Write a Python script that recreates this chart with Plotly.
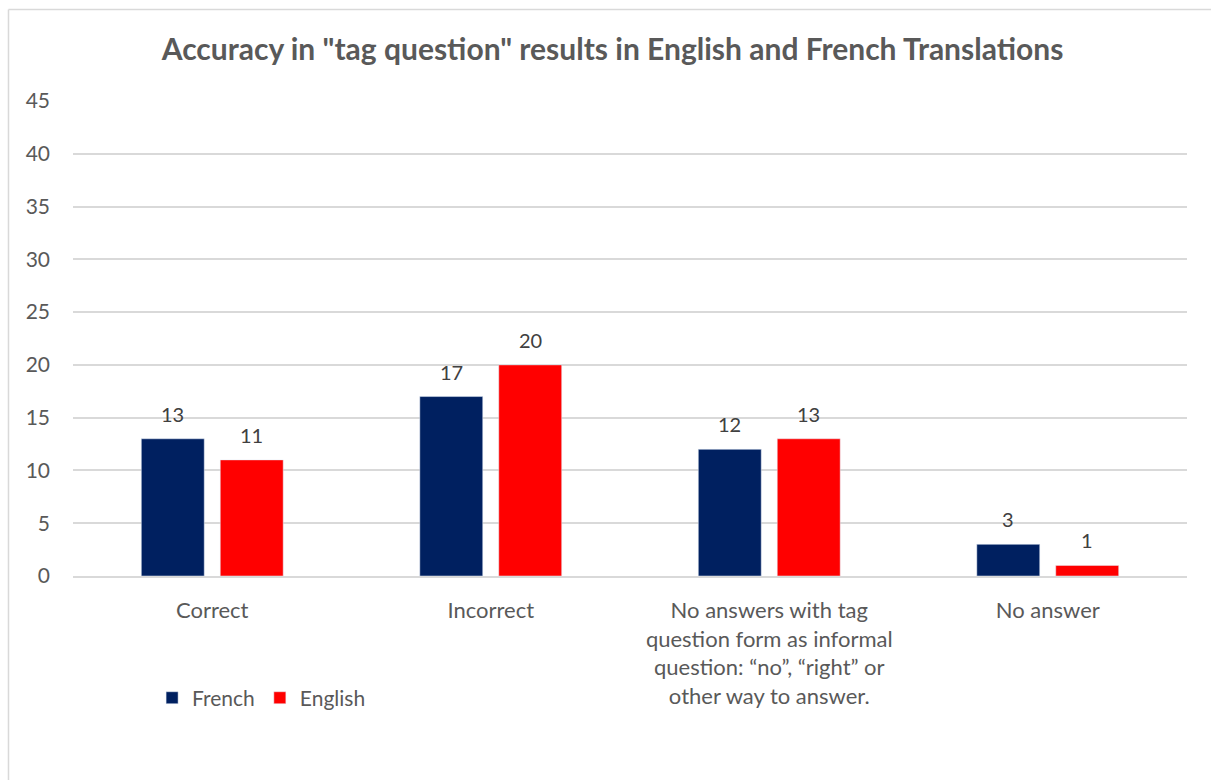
import plotly.graph_objects as go

categories = [
    "Correct",
    "Incorrect",
    "No answers with tag<br>question form as informal<br>question: \u201cno\u201d, \u201cright\u201d or<br>other way to answer.",
    "No answer",
]
french = [13, 17, 12, 3]
english = [11, 20, 13, 1]
y_ticks = [0, 5, 10, 15, 20, 25, 30, 35, 40, 45]

FONT = "Lato"
TEXT = "#595959"
GRID = "#d9d9d9"

fig = go.Figure()
fig.add_trace(go.Bar(name="French", x=categories, y=french, marker_color="#002060"))
fig.add_trace(go.Bar(name="English", x=categories, y=english, marker_color="#ff0000"))

# value labels above each bar
for vals, shift in ((french, -39.5), (english, 39.5)):
    for cat, v in zip(categories, vals):
        fig.add_annotation(
            x=cat, y=v, xshift=shift, yshift=25, text=str(v), showarrow=False,
            font=dict(family=FONT, size=20, color="#404040"), yanchor="middle",
        )

# chart frame: left and top edges, stopping at the page edges
fig.add_shape(
    type="line", xref="paper", yref="paper",
    x0=-0.0579, x1=-0.0579, y0=-0.4295, y1=1.1926,
    line=dict(color=GRID, width=1.5), layer="below",
)
fig.add_shape(
    type="line", xref="paper", yref="paper",
    x0=-0.0579, x1=1.0215, y0=1.1926, y1=1.1926,
    line=dict(color=GRID, width=1.5), layer="below",
)

fig.update_layout(
    width=1211, height=780,
    margin=dict(l=73, r=24, t=101, b=204),
    paper_bgcolor="white", plot_bgcolor="white",
    barmode="group", bargap=0.433, bargroupgap=0.203,
    font=dict(family=FONT, color=TEXT, size=20),
    title=dict(
        text="<b>Accuracy in \"tag question\" results in English and French Translations</b>",
        x=0.5058, xref="container", xanchor="center",
        y=0.936, yref="container", yanchor="middle",
        font=dict(family=FONT, size=30, color=TEXT),
    ),
    legend=dict(
        orientation="h", x=0.071, xanchor="left", y=-0.257, yanchor="middle",
        font=dict(family=FONT, size=21, color=TEXT),
        itemwidth=30, tracegroupgap=0,
    ),
    showlegend=True,
)
fig.update_xaxes(
    showgrid=False, showline=True, linecolor=GRID, linewidth=1.5,
    ticks="", ticklabelstandoff=14,
    tickfont=dict(family=FONT, size=22, color=TEXT),
)
fig.update_yaxes(
    range=[0, 45], tickvals=y_ticks, showgrid=True, gridcolor=GRID, gridwidth=1.5,
    zeroline=False, showline=False, ticks="", ticklabelstandoff=22,
    tickfont=dict(family=FONT, size=21, color=TEXT),
)

fig.write_html("out.html")
